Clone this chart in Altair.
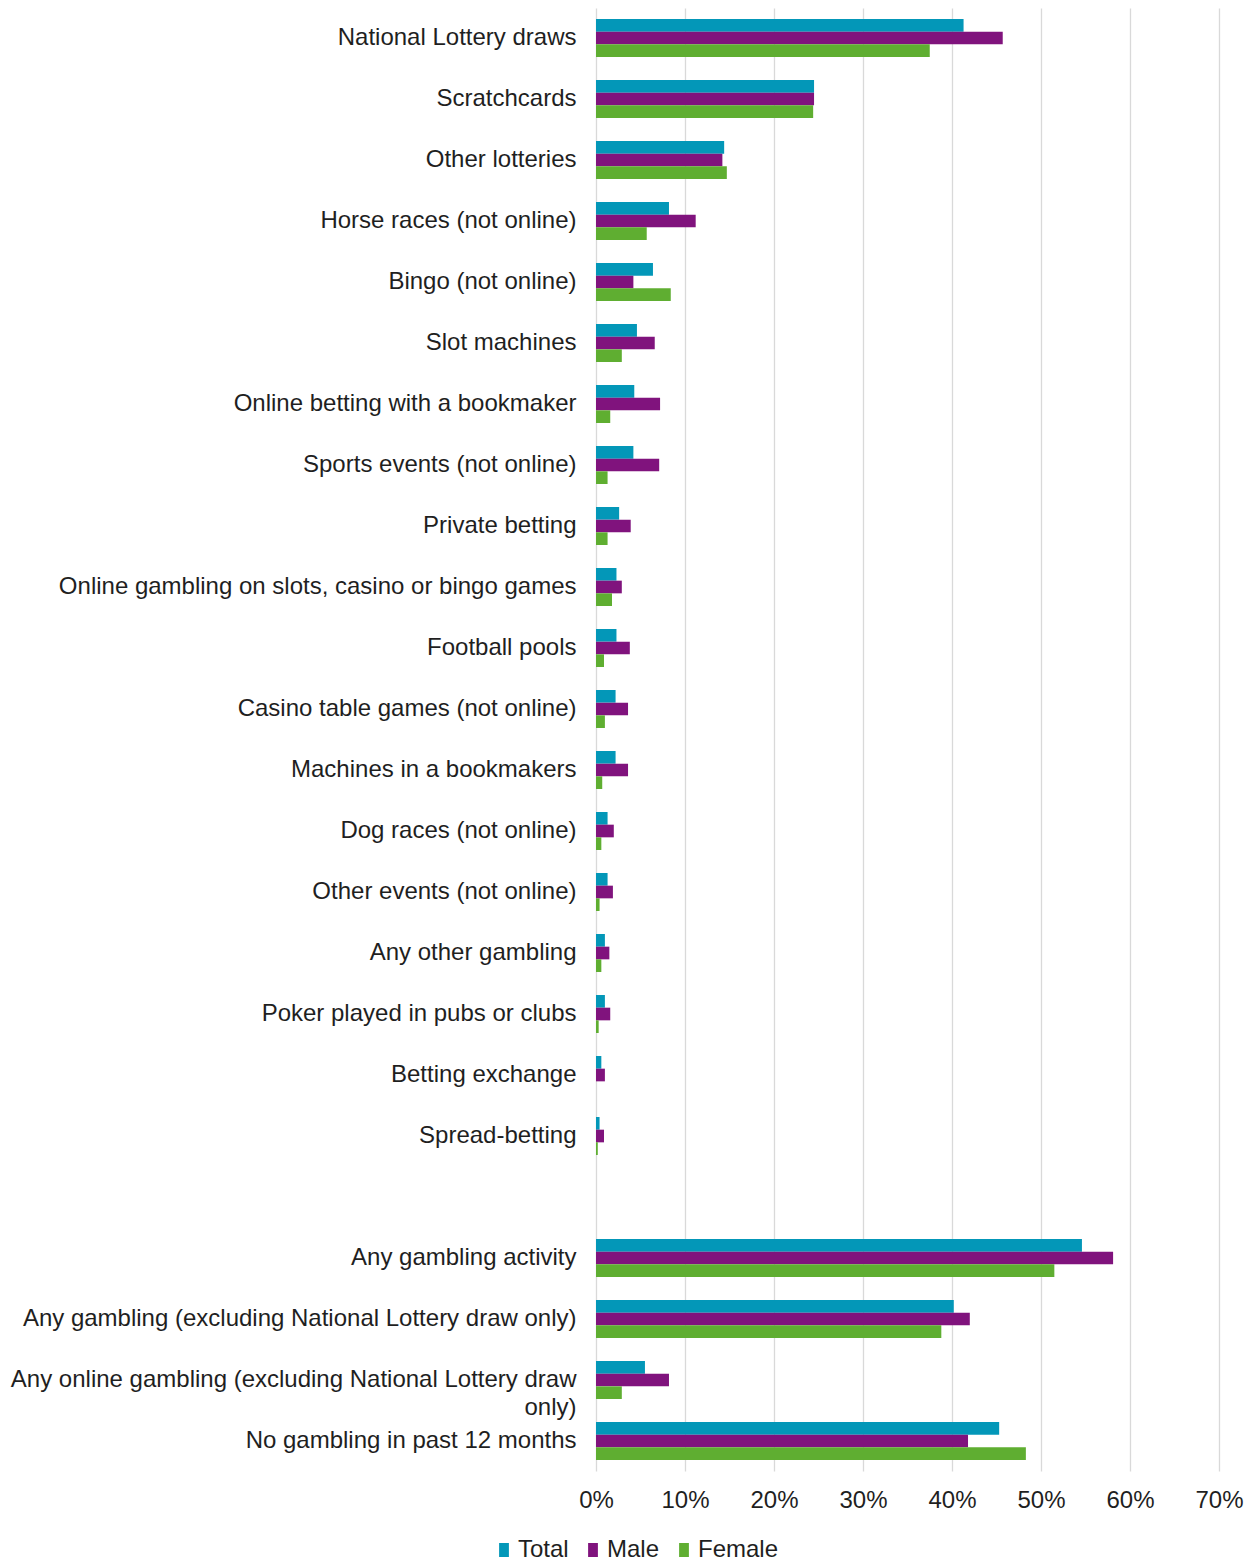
import altair as alt
import pandas as pd

activities = [
    "National Lottery draws", "Scratchcards", "Other lotteries",
    "Horse races (not online)", "Bingo (not online)", "Slot machines",
    "Online betting with a bookmaker", "Sports events (not online)",
    "Private betting", "Online gambling on slots, casino or bingo games",
    "Football pools", "Casino table games (not online)",
    "Machines in a bookmakers", "Dog races (not online)",
    "Other events (not online)", "Any other gambling",
    "Poker played in pubs or clubs", "Betting exchange", "Spread-betting",
]
summary = [
    "Any gambling activity",
    "Any gambling (excluding National Lottery draw only)",
    "Any online gambling (excluding National Lottery draw only)",
    "No gambling in past 12 months",
]
gap = " "
categories = activities + summary

total = [41.3, 24.5, 14.4, 8.2, 6.4, 4.6, 4.3, 4.2, 2.6, 2.3, 2.3, 2.2, 2.2,
         1.3, 1.3, 1.0, 1.0, 0.6, 0.4, 54.6, 40.2, 5.5, 45.3]
male = [45.7, 24.5, 14.2, 11.2, 4.2, 6.6, 7.2, 7.1, 3.9, 2.9, 3.8, 3.6, 3.6,
        2.0, 1.9, 1.5, 1.6, 1.0, 0.9, 58.1, 42.0, 8.2, 41.8]
female = [37.5, 24.4, 14.7, 5.7, 8.4, 2.9, 1.6, 1.3, 1.3, 1.8, 0.9, 1.0, 0.7,
          0.6, 0.4, 0.6, 0.3, 0.0, 0.2, 51.5, 38.8, 2.9, 48.3]

series = ["Total", "Male", "Female"]
colors = ["#0397B8", "#80137D", "#5FAE31"]
x_ticks = [0, 10, 20, 30, 40, 50, 60, 70]

rows = []
for name, vals in zip(series, [total, male, female]):
    for c, v in zip(categories, vals):
        rows.append({"category": c, "series": name, "value": v})
df = pd.DataFrame(rows)

domain = activities + [gap] + summary
FONT = "Liberation Sans"
TXT = "#1f1f1f"
FS = 24
long_label = summary[2]

chart = alt.Chart(df).mark_bar().encode(
    y=alt.Y("category:N", scale=alt.Scale(domain=domain, paddingInner=0.377, paddingOuter=0.18),
            axis=alt.Axis(title=None, domain=False, ticks=False, labelPadding=20,
                          labelLimit=700, minExtent=588, maxExtent=588,
                          labelFont=FONT, labelFontSize=FS, labelColor=TXT,
                          labelLineHeight=28,
                          labelExpr=f"datum.value == '{long_label}' ? ['Any online gambling (excluding National Lottery draw', 'only)'] : datum.value")),
    yOffset=alt.YOffset("series:N", sort=series, scale=alt.Scale(domain=series, paddingInner=0, paddingOuter=0)),
    x=alt.X("value:Q", scale=alt.Scale(domain=[0, 70], nice=False),
            axis=alt.Axis(title=None, values=x_ticks, labelExpr="datum.value + '%'",
                          domain=False, ticks=False, grid=True, gridColor="#d9d9d9",
                          gridWidth=1.3, labelPadding=17, labelFont=FONT,
                          labelFlush=False, labelAlign="center",
                          labelFontSize=FS, labelColor=TXT)),
    color=alt.Color("series:N", sort=series,
                    scale=alt.Scale(domain=series, range=colors),
                    legend=alt.Legend(title=None, orient="none", direction="horizontal",
                                      legendX=-104, legendY=1530,
                                      symbolType="M-0.7,-1H0.7V1H-0.7Z",
                                      symbolSize=196, symbolStrokeWidth=0,
                                      labelFont=FONT, labelFontSize=FS, labelColor=TXT,
                                      labelOffset=2, columnPadding=12)),
).properties(
    width=623, height=1463,
    padding={"left": 0, "top": 0, "right": 0, "bottom": 0},
).configure_view(stroke=None)

chart.save("out.html", embed_options={"renderer": "svg", "actions": False})
